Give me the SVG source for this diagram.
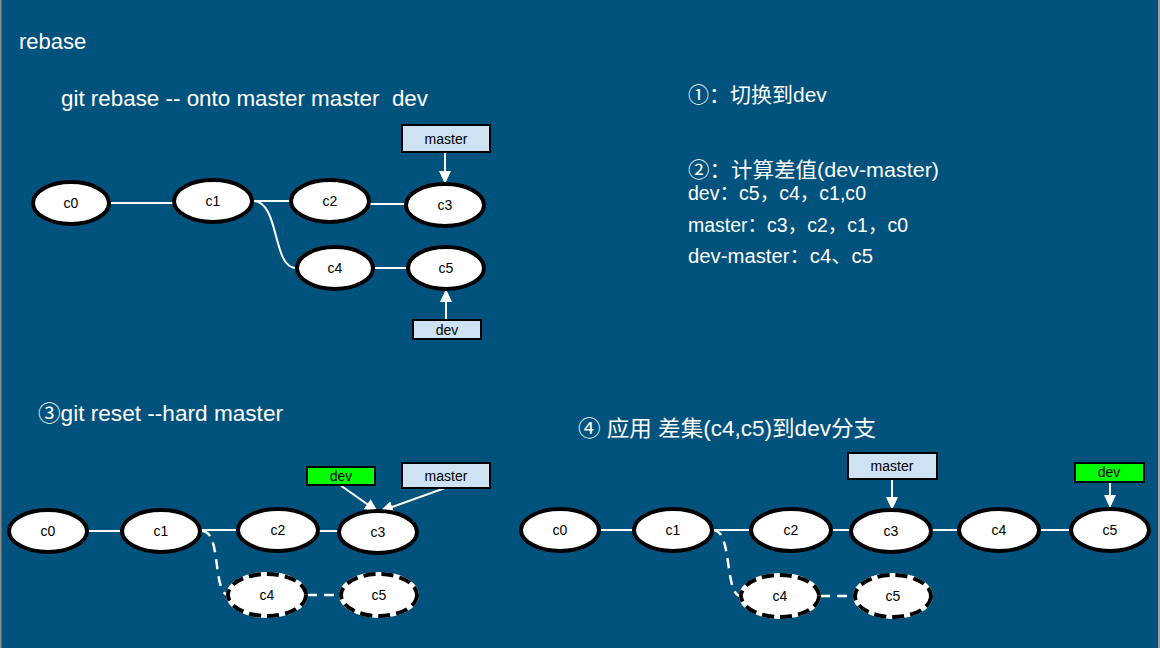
<svg xmlns="http://www.w3.org/2000/svg" width="1160" height="648" viewBox="0 0 1160 648">
<defs>
<style>
.bg{fill:#01537E}
.t{font-family:"Liberation Sans","Noto Sans CJK SC",sans-serif;fill:#ffffff}
.n ellipse{fill:#ffffff;stroke:#000000;stroke-width:4}
.d ellipse.u{fill:#ffffff;stroke:#ffffff;stroke-width:4}
.d ellipse.o{fill:none;stroke:#000000;stroke-width:4;stroke-dasharray:12 6}
.lbl{font-family:"Liberation Sans",sans-serif;font-size:14px;fill:#000000;text-anchor:middle}
.box{fill:#CFE2F3;stroke:#000000;stroke-width:2}
.gbox{fill:#00FF00;stroke:#000000;stroke-width:2}
.c{fill:none;stroke:#ffffff;stroke-width:2}
.cd{fill:none;stroke:#ffffff;stroke-width:2.5;stroke-dasharray:10 7}
.a{fill:none;stroke:#ffffff;stroke-width:2;marker-end:url(#ah)}
</style>
<marker id="ah" viewBox="0 0 13 12" refX="12" refY="6" markerWidth="13" markerHeight="12" markerUnits="userSpaceOnUse" orient="auto">
<path d="M0,0 L13,6 L0,12 z" fill="#ffffff"/>
</marker>
</defs>
<rect class="bg" x="0" y="0" width="1160" height="648"/>
<rect x="0" y="0" width="1.5" height="648" fill="#8c8c8c"/>
<rect x="1158" y="0" width="2" height="648" fill="#a0a0a0"/>

<g id="texts">
<text class="t" x="19" y="49" font-size="22">rebase</text>
<text class="t" x="61" y="106" font-size="22" xml:space="preserve" textLength="367" lengthAdjust="spacingAndGlyphs">git rebase -- onto master master  dev</text>
<text class="t" x="688" y="102" font-size="21">①：切换到dev</text>
<text class="t" x="688" y="177" font-size="21" textLength="251" lengthAdjust="spacingAndGlyphs">②：计算差值(dev-master)</text>
<text class="t" x="688" y="200" font-size="20" textLength="178" lengthAdjust="spacingAndGlyphs">dev：c5，c4，c1,c0</text>
<text class="t" x="688" y="232" font-size="20" textLength="220" lengthAdjust="spacingAndGlyphs">master：c3，c2，c1，c0</text>
<text class="t" x="688" y="263" font-size="20" textLength="185" lengthAdjust="spacingAndGlyphs">dev-master：c4、c5</text>
<text class="t" x="38" y="421" font-size="22" textLength="245" lengthAdjust="spacingAndGlyphs">③git reset --hard master</text>
<text class="t" x="578" y="436" font-size="22" textLength="298" lengthAdjust="spacingAndGlyphs">④ 应用 差集(c4,c5)到dev分支</text>
</g>

<g id="connectors">
<line class="c" x1="110" y1="203" x2="173" y2="203"/>
<line class="c" x1="253" y1="201" x2="290" y2="201"/>
<line class="c" x1="370" y1="204" x2="405" y2="204"/>
<path class="c" d="M253,201 C280,201 272,268 296,268"/>
<line class="c" x1="374" y1="268" x2="407" y2="268"/>
<line class="a" x1="445" y1="152" x2="445" y2="183"/>
<line class="a" x1="446" y1="320" x2="446" y2="290"/>
<line class="c" x1="88" y1="531" x2="121" y2="531"/>
<line class="c" x1="201" y1="530" x2="237" y2="530"/>
<line class="c" x1="319" y1="531" x2="338" y2="531"/>
<path class="cd" d="M202,531 C222,531 212,595 229,595"/>
<line class="cd" x1="307" y1="595" x2="340" y2="595"/>
<line class="a" x1="340" y1="485" x2="377" y2="511"/>
<line class="a" x1="445" y1="488" x2="381" y2="511"/>
<line class="c" x1="600" y1="530" x2="634" y2="530"/>
<line class="c" x1="713" y1="530" x2="751" y2="530"/>
<line class="c" x1="831" y1="530" x2="851" y2="530"/>
<line class="c" x1="932" y1="530" x2="959" y2="530"/>
<line class="c" x1="1039" y1="530" x2="1070" y2="530"/>
<path class="cd" d="M713,530 C733,530 724,596 741,596"/>
<line class="cd" x1="820" y1="596" x2="854" y2="596"/>
<line class="a" x1="892" y1="479" x2="892" y2="509"/>
<line class="a" x1="1110" y1="482" x2="1110" y2="507"/>
</g>

<g id="t-c0" class="n"><ellipse cx="71" cy="203" rx="38" ry="21"/><text class="lbl" x="71" y="208">c0</text></g>
<g id="t-c1" class="n"><ellipse cx="213" cy="201" rx="39" ry="21"/><text class="lbl" x="213" y="206">c1</text></g>
<g id="t-c2" class="n"><ellipse cx="330" cy="201" rx="39" ry="21"/><text class="lbl" x="330" y="206">c2</text></g>
<g id="t-c3" class="n"><ellipse cx="445" cy="205" rx="39" ry="21"/><text class="lbl" x="445" y="210">c3</text></g>
<g id="t-c4" class="n"><ellipse cx="335" cy="268" rx="38" ry="21"/><text class="lbl" x="335" y="273">c4</text></g>
<g id="t-c5" class="n"><ellipse cx="446" cy="268" rx="38" ry="21"/><text class="lbl" x="446" y="273">c5</text></g>
<g id="t-master"><rect class="box" x="402" y="125" width="88" height="27"/><text class="lbl" x="446" y="144">master</text></g>
<g id="t-dev"><rect class="box" x="413" y="320" width="68" height="19"/><text class="lbl" x="447" y="335">dev</text></g>

<g id="l-c0" class="n"><ellipse cx="48" cy="531" rx="39" ry="21"/><text class="lbl" x="48" y="536">c0</text></g>
<g id="l-c1" class="n"><ellipse cx="161" cy="531" rx="39" ry="21"/><text class="lbl" x="161" y="536">c1</text></g>
<g id="l-c2" class="n"><ellipse cx="278" cy="530" rx="40" ry="21"/><text class="lbl" x="278" y="535">c2</text></g>
<g id="l-c3" class="n"><ellipse cx="378" cy="532" rx="39" ry="21"/><text class="lbl" x="378" y="537">c3</text></g>
<g id="l-c4" class="d"><ellipse class="u" cx="267" cy="595" rx="39" ry="21"/><ellipse class="o" cx="267" cy="595" rx="39" ry="21"/><text class="lbl" x="267" y="600">c4</text></g>
<g id="l-c5" class="d"><ellipse class="u" cx="379" cy="595" rx="38" ry="21"/><ellipse class="o" cx="379" cy="595" rx="38" ry="21"/><text class="lbl" x="379" y="600">c5</text></g>
<g id="l-dev"><rect class="gbox" x="307" y="467" width="68" height="18"/><text class="lbl" x="341" y="481">dev</text></g>
<g id="l-master"><rect class="box" x="402" y="463" width="88" height="25"/><text class="lbl" x="446" y="481">master</text></g>

<g id="r-c0" class="n"><ellipse cx="560" cy="530" rx="39" ry="21"/><text class="lbl" x="560" y="535">c0</text></g>
<g id="r-c1" class="n"><ellipse cx="673" cy="530" rx="39" ry="21"/><text class="lbl" x="673" y="535">c1</text></g>
<g id="r-c2" class="n"><ellipse cx="791" cy="530" rx="40" ry="21"/><text class="lbl" x="791" y="535">c2</text></g>
<g id="r-c3" class="n"><ellipse cx="891" cy="531" rx="40" ry="21"/><text class="lbl" x="891" y="536">c3</text></g>
<g id="r-c4" class="n"><ellipse cx="999" cy="530" rx="40" ry="21"/><text class="lbl" x="999" y="535">c4</text></g>
<g id="r-c5" class="n"><ellipse cx="1110" cy="530" rx="39" ry="21"/><text class="lbl" x="1110" y="535">c5</text></g>
<g id="r-dc4" class="d"><ellipse class="u" cx="780" cy="596" rx="39" ry="21"/><ellipse class="o" cx="780" cy="596" rx="39" ry="21"/><text class="lbl" x="780" y="601">c4</text></g>
<g id="r-dc5" class="d"><ellipse class="u" cx="893" cy="596" rx="38" ry="21"/><ellipse class="o" cx="893" cy="596" rx="38" ry="21"/><text class="lbl" x="893" y="601">c5</text></g>
<g id="r-master"><rect class="box" x="848" y="453" width="89" height="26"/><text class="lbl" x="892" y="471">master</text></g>
<g id="r-dev"><rect class="gbox" x="1075" y="463" width="69" height="19"/><text class="lbl" x="1109" y="477">dev</text></g>
</svg>
